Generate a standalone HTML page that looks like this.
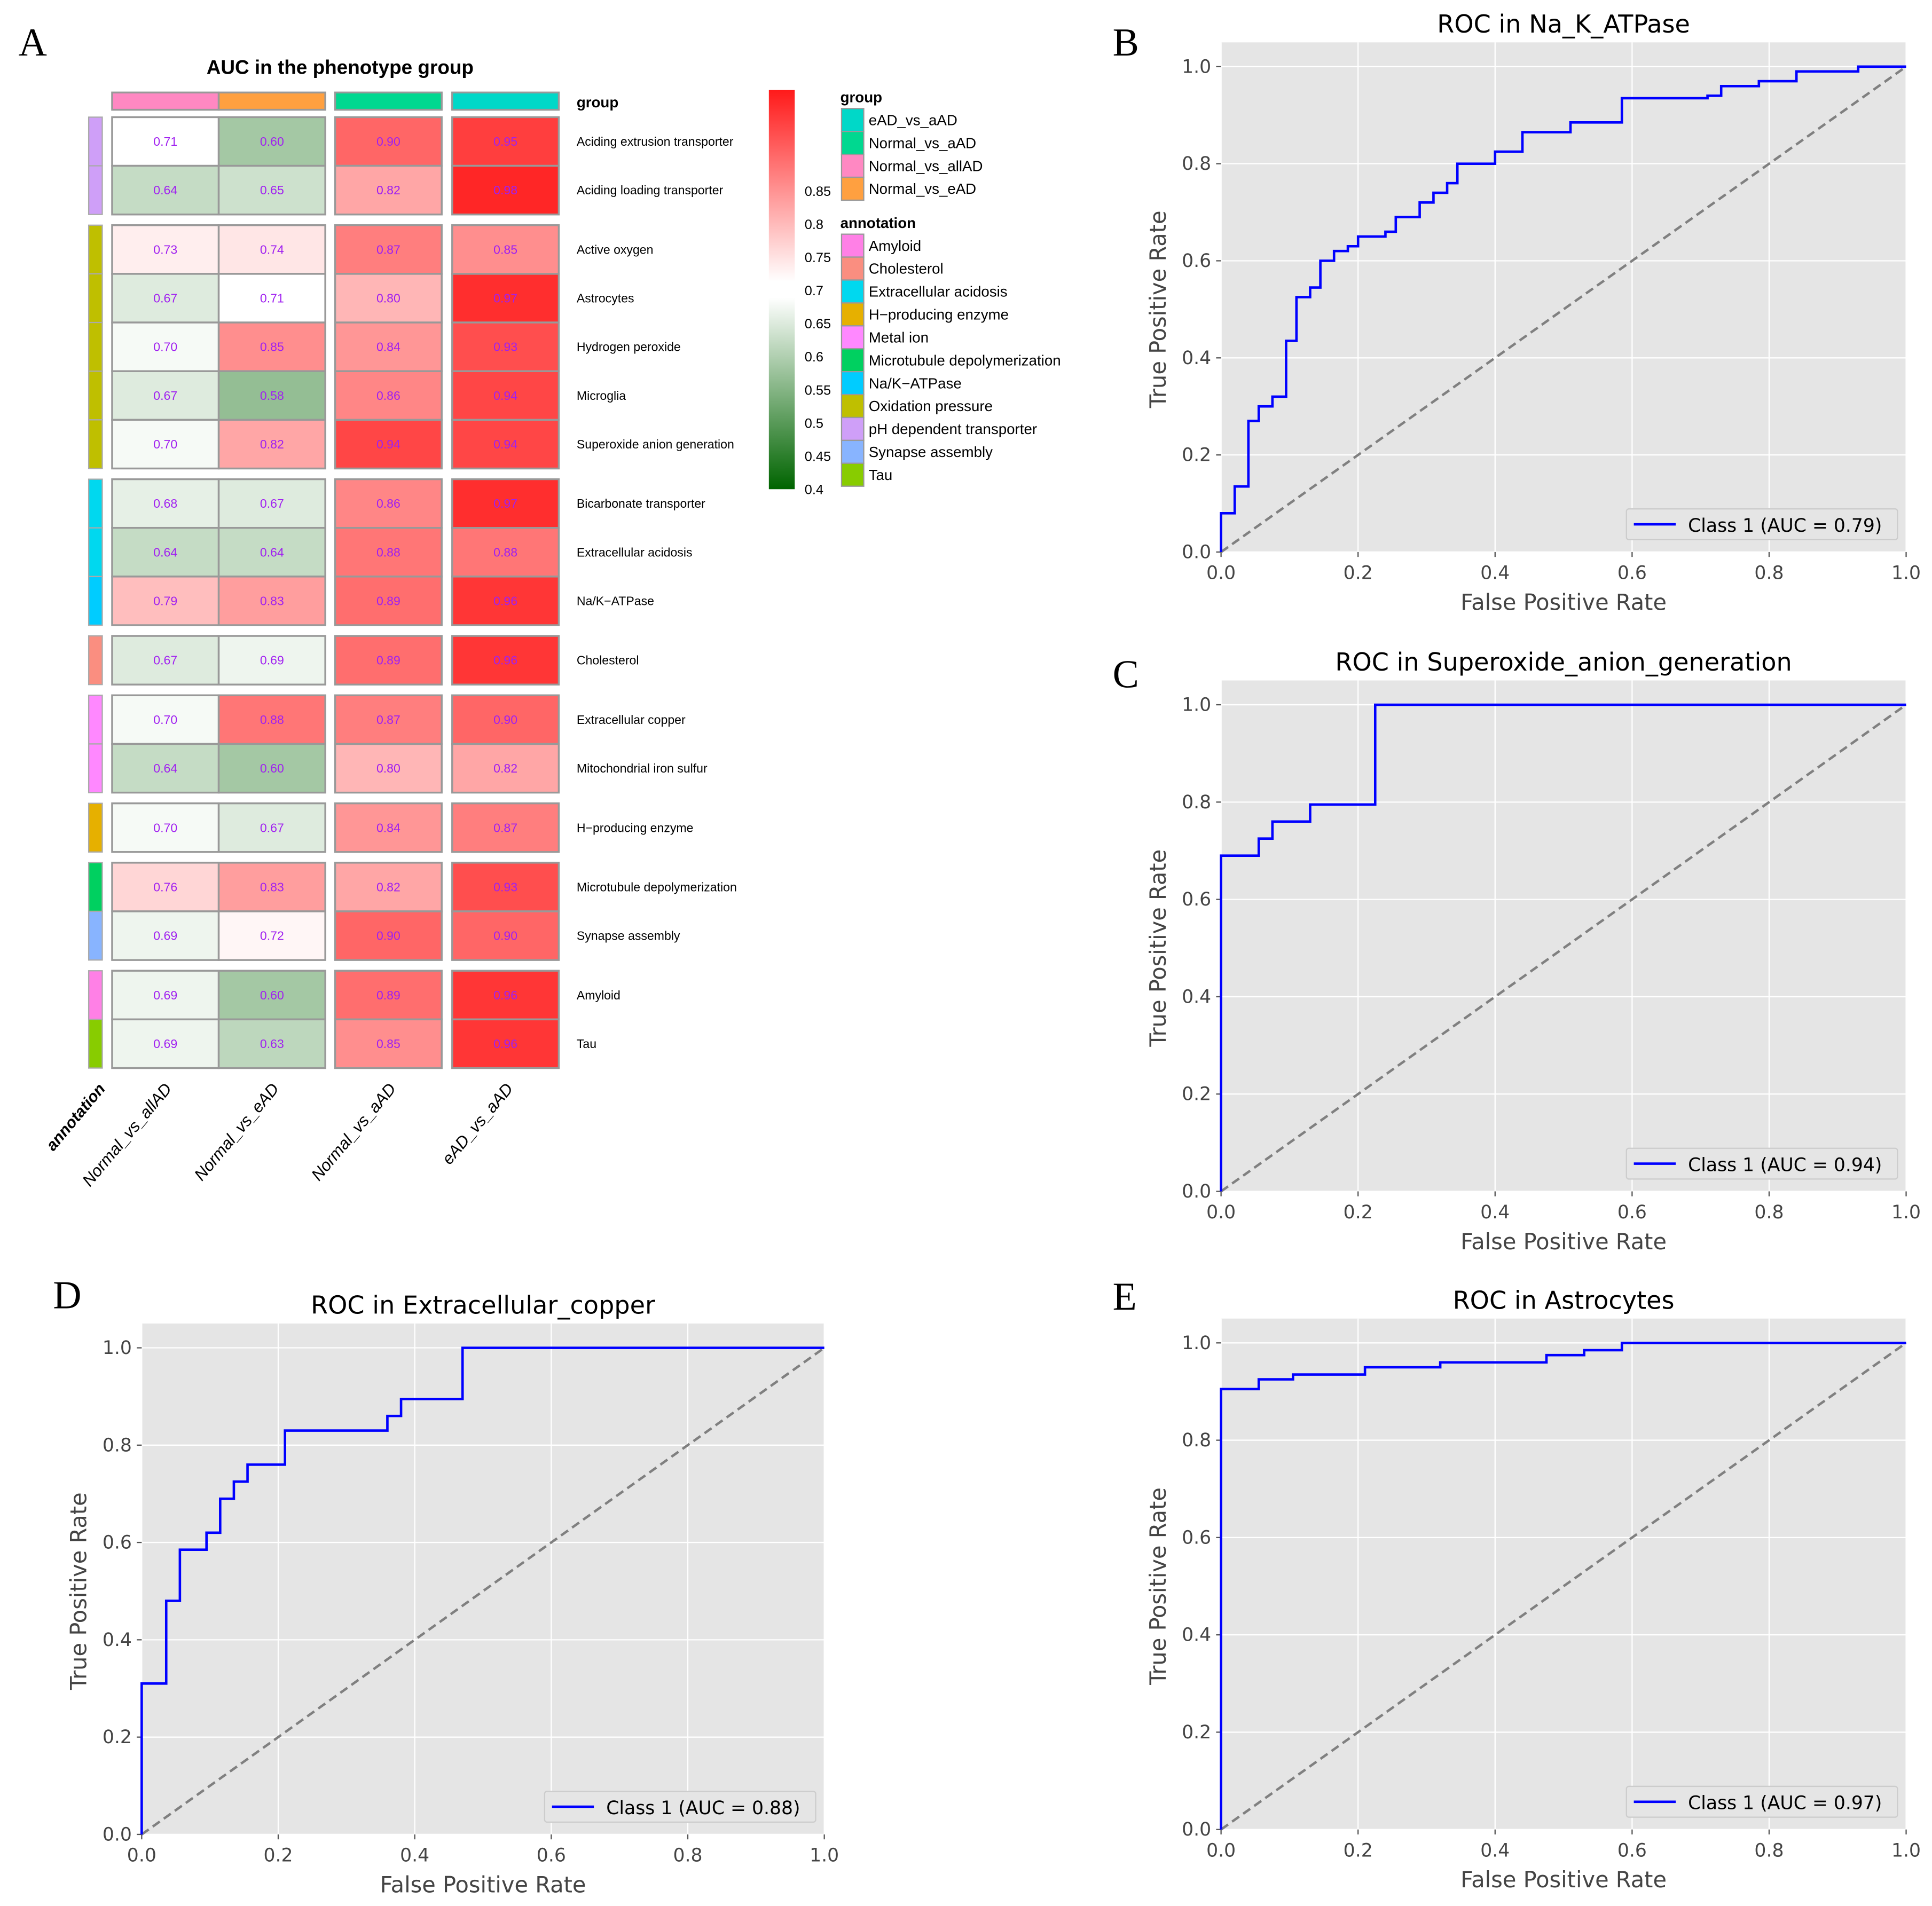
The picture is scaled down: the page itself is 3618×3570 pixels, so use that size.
<!DOCTYPE html>
<html><head><meta charset="utf-8"><style>
html,body{margin:0;padding:0;background:#fff}
svg{display:block}
text{font-family:"Liberation Sans","DejaVu Sans",sans-serif}
text.dj{font-family:"DejaVu Sans","Liberation Sans",sans-serif}
text.serif{font-family:"Liberation Serif","DejaVu Serif",serif}
</style></head><body>
<svg id="root" xmlns="http://www.w3.org/2000/svg" width="3618" height="3570" viewBox="0 0 1568 1547">
<defs>
<linearGradient id="cbar" x1="0" y1="0" x2="0" y2="1">
<stop offset="0" stop-color="#ff1a1a"/><stop offset="0.48" stop-color="#ffffff"/><stop offset="0.52" stop-color="#ffffff"/><stop offset="1" stop-color="#006400"/>
</linearGradient>
</defs>
<g id="heat"></g>
<g id="rocs"></g>
</svg>
<script>
const NS="http://www.w3.org/2000/svg";
function mk(p,tag,attrs,txt){const e=document.createElementNS(NS,tag);for(const k in attrs)e.setAttribute(k,attrs[k]);if(txt!==undefined)e.textContent=txt;p.appendChild(e);return e;}

// ---------- Heatmap data ----------
const rowLabels=["Aciding extrusion transporter","Aciding loading transporter","Active oxygen","Astrocytes","Hydrogen peroxide","Microglia","Superoxide anion generation","Bicarbonate transporter","Extracellular acidosis","Na/K−ATPase","Cholesterol","Extracellular copper","Mitochondrial iron sulfur","H−producing enzyme","Microtubule depolymerization","Synapse assembly","Amyloid","Tau"];
const colLabels=["Normal_vs_allAD","Normal_vs_eAD","Normal_vs_aAD","eAD_vs_aAD"];
const colAllAD=[0.71,0.64,0.73,0.67,0.70,0.67,0.70,0.68,0.64,0.79,0.67,0.70,0.64,0.70,0.76,0.69,0.69,0.69];
const colEAD=[0.60,0.65,0.74,0.71,0.85,0.58,0.82,0.67,0.64,0.83,0.69,0.88,0.60,0.67,0.83,0.72,0.60,0.63];
const colAAD=[0.90,0.82,0.87,0.80,0.84,0.86,0.94,0.86,0.88,0.89,0.89,0.87,0.80,0.84,0.82,0.90,0.89,0.85];
const colEvA=[0.95,0.98,0.85,0.97,0.93,0.94,0.94,0.97,0.88,0.96,0.96,0.90,0.82,0.87,0.93,0.90,0.96,0.96];
const rowGroupSizes=[2,5,3,1,2,1,2,2];
const rowAnno=["pH","pH","Ox","Ox","Ox","Ox","Ox","EA","EA","NaK","Chol","Metal","Metal","H","Micro","Syn","Amy","Tau"];
const groupColors=["#ff88c2","#ffa040","#00d890","#00d8c8"];
const annoNames=["Amyloid","Cholesterol","Extracellular acidosis","H−producing enzyme","Metal ion","Microtubule depolymerization","Na/K−ATPase","Oxidation pressure","pH dependent transporter","Synapse assembly","Tau"];
const annoKeys=["Amy","Chol","EA","H","Metal","Micro","NaK","Ox","pH","Syn","Tau"];
const annoColors=["#ff80e6","#fa8e80","#00d8ef","#e6b000","#ff88ff","#00d060","#00ccff","#bfbf00","#cf9ff8","#88b4ff","#88cc00"];
const groupLegend=["eAD_vs_aAD","Normal_vs_aAD","Normal_vs_allAD","Normal_vs_eAD"];
const groupLegendColors=["#00d8c8","#00d890","#ff88c2","#ffa040"];
const cbarTicks=[0.85,0.8,0.75,0.7,0.65,0.6,0.55,0.5,0.45,0.4];

function heatColor(v){
  let r,g,b;
  if(v>=0.71){const t=Math.min(1,(v-0.71)/0.28);r=255;g=255-225*t;b=255-225*t;}
  else{const t=Math.min(1,(0.71-v)/0.31);r=255-255*t;g=255-155*t;b=255-255*t;}
  return `rgb(${r|0},${g|0},${b|0})`;
}
(function(){
const H=document.getElementById('heat');
let t=mk(H,'text',{x:15,y:45,'font-size':32,class:'serif'},"A");

t=mk(H,'text',{x:276,y:60,'text-anchor':'middle','font-size':16,'font-weight':'bold'},"AUC in the phenotype group");

const colX=[91,177.5,272,367],cw=86.5;
const cols=[colAllAD,colEAD,colAAD,colEvA];
for(let c=0;c<4;c++){const r=mk(H,'rect',{x:colX[c],y:75,width:cw,height:14,fill:groupColors[c],stroke:'#999','stroke-width':1.5});
}
t=mk(H,'text',{x:468,y:87,'font-size':12,'font-weight':'bold'},"group");

const rh=39.5,gap=8.7;let y=95,i=0;
rowGroupSizes.forEach(sz=>{
  for(let k=0;k<sz;k++,i++){
    const ai=annoKeys.indexOf(rowAnno[i]);
    const a=mk(H,'rect',{x:72,y:y,width:11,height:rh,fill:annoColors[ai],stroke:'#aaa','stroke-width':1});
    
    for(let c=0;c<4;c++){
      const v=cols[c][i];
      const r=mk(H,'rect',{x:colX[c],y:y,width:cw,height:rh,fill:heatColor(v),stroke:'#999','stroke-width':1.5});
      
      const tx=mk(H,'text',{x:colX[c]+cw/2,y:y+rh/2+3.5,'text-anchor':'middle','font-size':10,fill:'#a020f0'},v.toFixed(2));
      
    }
    const l=mk(H,'text',{x:468,y:y+rh/2+3.5,'font-size':10},rowLabels[i]);
    
    y+=rh;
  }
  y+=gap;
});
const ox=[128,215,310,405];
t=mk(H,'text',{x:0,y:0,'font-size':13,'font-weight':'bold','font-style':'italic','text-anchor':'end',transform:'translate(86,884) rotate(-50)'},"annotation");

for(let c=0;c<4;c++){const l=mk(H,'text',{x:0,y:0,'font-size':13.5,'font-style':'italic','text-anchor':'end',transform:`translate(${ox[c]+12},${884}) rotate(-50)`},colLabels[c]);
}
const cb=mk(H,'rect',{x:624,y:73,width:21,height:324,fill:'url(#cbar)'});

cbarTicks.forEach(v=>{const yy=397-(v-0.4)/0.05*26.9;const l=mk(H,'text',{x:653,y:yy+4,'font-size':11},String(v));
});
t=mk(H,'text',{x:682,y:83,'font-size':12,'font-weight':'bold'},"group");

groupLegend.forEach((n,k)=>{const yy=88+k*18.6;
 const r=mk(H,'rect',{x:683,y:yy,width:18,height:18.6,fill:groupLegendColors[k],stroke:'#999','stroke-width':1});
 
 const l=mk(H,'text',{x:705,y:yy+13.5,'font-size':12},n);});
t=mk(H,'text',{x:682,y:185,'font-size':12,'font-weight':'bold'},"annotation");

annoNames.forEach((n,k)=>{const yy=190+k*18.6;
 const r=mk(H,'rect',{x:683,y:yy,width:18,height:18.6,fill:annoColors[k],stroke:'#999','stroke-width':1});
 
 const l=mk(H,'text',{x:705,y:yy+13.5,'font-size':12},n);});
})();

// ---------- ROC data ----------
const nakFpr=[0,0,0.02,0.02,0.04,0.04,0.055,0.055,0.075,0.075,0.095,0.095,0.11,0.11,0.13,0.13,0.145,0.145,0.165,0.165,0.185,0.185,0.2,0.2,0.24,0.24,0.255,0.255,0.29,0.29,0.31,0.31,0.33,0.33,0.345,0.345,0.4,0.4,0.44,0.44,0.51,0.51,0.585,0.585,0.71,0.71,0.73,0.73,0.785,0.785,0.84,0.84,0.93,0.93,1];
const nakTpr=[0,0.08,0.08,0.135,0.135,0.27,0.27,0.30,0.30,0.32,0.32,0.435,0.435,0.525,0.525,0.545,0.545,0.60,0.60,0.62,0.62,0.63,0.63,0.65,0.65,0.66,0.66,0.69,0.69,0.72,0.72,0.74,0.74,0.76,0.76,0.80,0.80,0.825,0.825,0.865,0.865,0.885,0.885,0.935,0.935,0.94,0.94,0.96,0.96,0.97,0.97,0.99,0.99,1,1];
const supFpr=[0,0,0.055,0.055,0.075,0.075,0.13,0.13,0.225,0.225,1];
const supTpr=[0,0.69,0.69,0.725,0.725,0.76,0.76,0.795,0.795,1,1];
const cuFpr=[0,0,0.036,0.036,0.056,0.056,0.095,0.095,0.115,0.115,0.135,0.135,0.155,0.155,0.21,0.21,0.36,0.36,0.38,0.38,0.47,0.47,1];
const cuTpr=[0,0.31,0.31,0.48,0.48,0.585,0.585,0.62,0.62,0.69,0.69,0.725,0.725,0.76,0.76,0.83,0.83,0.86,0.86,0.895,0.895,1,1];
const astFpr=[0,0,0.055,0.055,0.105,0.105,0.21,0.21,0.32,0.32,0.475,0.475,0.53,0.53,0.585,0.585,1];
const astTpr=[0,0.905,0.905,0.925,0.925,0.935,0.935,0.95,0.95,0.96,0.96,0.975,0.975,0.985,0.985,1,1];
const rocTitles=["ROC in Na_K_ATPase","ROC in Superoxide_anion_generation","ROC in Extracellular_copper","ROC in Astrocytes"];
const rocAUC=["0.79","0.94","0.88","0.97"];
const rocTicks=[0,0.2,0.4,0.6,0.8,1.0];

function drawRoc(name,letter,lx,ly,x0,x1,y0,y1,fpr,tpr,title,auc){
  const R=document.getElementById('rocs');
  const g=mk(R,'g',{});
  
  const sx=v=>x0+(x1-x0)*v, sy=v=>y0-(y0-y1)*v;
  const top=sy(1.05);
  let e=mk(g,'text',{x:lx,y:ly,'font-size':32,class:'serif'},letter);
  
  e=mk(g,'rect',{x:x0,y:top,width:x1-x0,height:y0-top,fill:'#e5e5e5'});
  
  rocTicks.forEach(v=>{
    let l=mk(g,'line',{x1:sx(v),x2:sx(v),y1:top,y2:y0,stroke:'#fff','stroke-width':1});
    
    l=mk(g,'line',{x1:x0,x2:x1,y1:sy(v),y2:sy(v),stroke:'#fff','stroke-width':1});
    
    l=mk(g,'line',{x1:sx(v),x2:sx(v),y1:y0,y2:y0+4,stroke:'#555','stroke-width':1});
    
    l=mk(g,'line',{x1:x0-4,x2:x0,y1:sy(v),y2:sy(v),stroke:'#555','stroke-width':1});
    
    let t=mk(g,'text',{x:sx(v),y:y0+22,'text-anchor':'middle','font-size':15,fill:'#444',class:'dj'},v.toFixed(1));
    
    t=mk(g,'text',{x:x0-8,y:sy(v)+5,'text-anchor':'end','font-size':15,fill:'#444',class:'dj'},v.toFixed(1));
    
  });
  e=mk(g,'line',{x1:sx(0),y1:sy(0),x2:sx(1),y2:sy(1),stroke:'#808080','stroke-width':2,'stroke-dasharray':'7,4'});
  
  const pts=fpr.map((f,k)=>sx(f).toFixed(1)+','+sy(tpr[k]).toFixed(1)).join(' ');
  e=mk(g,'polyline',{points:pts,fill:'none',stroke:'#0000ff','stroke-width':2});
  
  e=mk(g,'text',{x:(x0+x1)/2,y:top-8,'text-anchor':'middle','font-size':20,class:'dj'},title);
  
  e=mk(g,'text',{x:(x0+x1)/2,y:y0+47,'text-anchor':'middle','font-size':18,fill:'#444',class:'dj'},"False Positive Rate");
  
  e=mk(g,'text',{x:0,y:0,'text-anchor':'middle','font-size':18,fill:'#444',class:'dj',transform:`translate(${x0-45},${(sy(0)+sy(1))/2}) rotate(-90)`},"True Positive Rate");
  
  const lg=mk(g,'g',{});
  
  e=mk(lg,'rect',{x:x1-227,y:y0-35,width:220,height:25,fill:'#e5e5e5',stroke:'#ccc','stroke-width':1,rx:2});
  
  e=mk(lg,'line',{x1:x1-221,x2:x1-187,y1:y0-22.5,y2:y0-22.5,stroke:'#0000ff','stroke-width':2});
  
  e=mk(lg,'text',{x:x1-177,y:y0-16.5,'font-size':15,class:'dj'},`Class 1 (AUC = ${auc})`);
  
}
drawRoc('roc-na-k-atpase','B',903,45,991,1547,448,54,nakFpr,nakTpr,rocTitles[0],rocAUC[0]);
drawRoc('roc-superoxide','C',903,558,991,1547,967,572,supFpr,supTpr,rocTitles[1],rocAUC[1]);
drawRoc('roc-extracellular-copper','D',43,1062,115,669,1489,1094,cuFpr,cuTpr,rocTitles[2],rocAUC[2]);
drawRoc('roc-astrocytes','E',903,1063,991,1547,1485,1090,astFpr,astTpr,rocTitles[3],rocAUC[3]);
</script>
</body></html>
